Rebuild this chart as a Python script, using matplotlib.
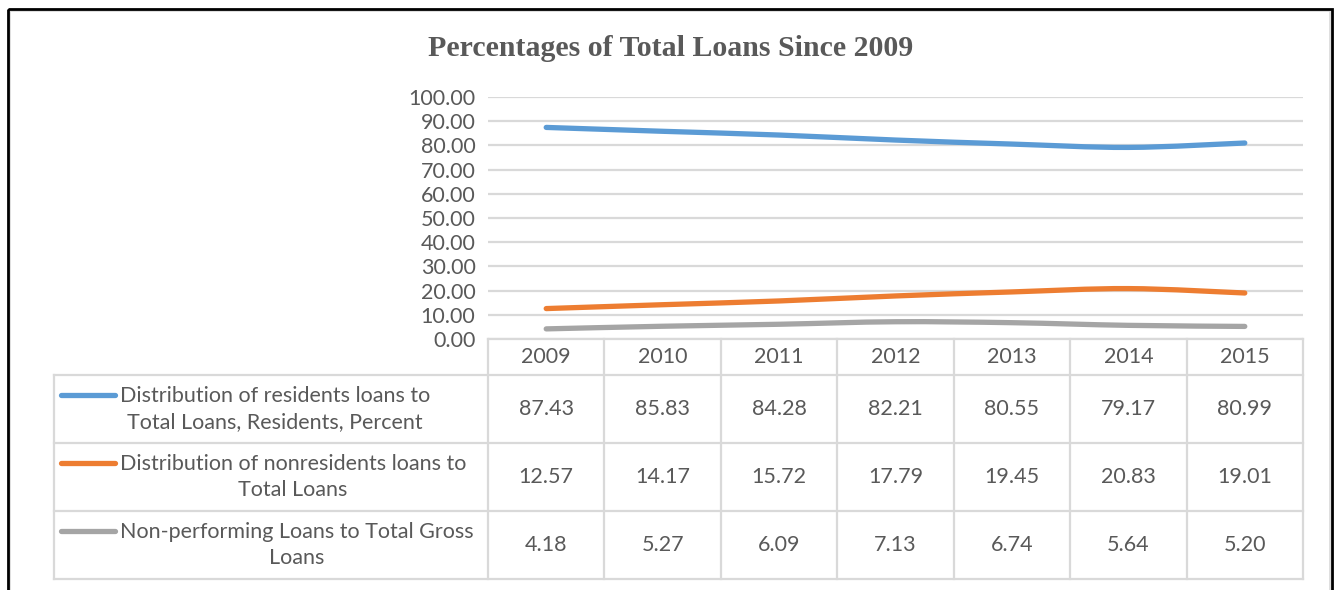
import matplotlib
matplotlib.use('Agg')
import matplotlib.pyplot as plt
from matplotlib.path import Path
from matplotlib.patches import PathPatch, Rectangle
from matplotlib.lines import Line2D
from matplotlib.ticker import FuncFormatter

# data
years = ['2009', '2010', '2011', '2012', '2013', '2014', '2015']
residents = [87.43, 85.83, 84.28, 82.21, 80.55, 79.17, 80.99]
nonresidents = [12.57, 14.17, 15.72, 17.79, 19.45, 20.83, 19.01]
nonperforming = [4.18, 5.27, 6.09, 7.13, 6.74, 5.64, 5.20]

series = [residents, nonresidents, nonperforming]
names = ['Distribution of residents loans to\nTotal Loans, Residents, Percent',
         'Distribution of nonresidents loans to\nTotal Loans',
         'Non-performing Loans to Total Gross\nLoans']
colors = ['#5b9bd5', '#ed7d31', '#a5a5a5']

TXT = '#595959'
GRID = '#d9d9d9'
FONT = 'Lato'
FS = 15.5

W, H = 1334, 590
fig = plt.figure(figsize=(W / 100, H / 100), dpi=100)

# pixel layout
plot_l, plot_r, plot_t, plot_b = 488, 1303, 97, 339
tab_l = 54
row_edges = [339, 375, 443, 511, 579]
ncol = len(years)
colw = (plot_r - plot_l) / ncol

# overlay in pixel coords for table / frame
ov = fig.add_axes([0, 0, 1, 1])
ov.set_xlim(0, W)
ov.set_ylim(H, 0)
ov.axis('off')

ax = fig.add_axes([plot_l / W, 1 - plot_b / H, (plot_r - plot_l) / W, (plot_b - plot_t) / H])
ax.set_facecolor('none')
ax.set_xlim(-0.5, ncol - 0.5)
ax.set_ylim(0, 100)
ax.set_yticks(range(0, 101, 10))
ax.yaxis.set_major_formatter(FuncFormatter(lambda v, p: f'{v:.2f}'))
ax.set_xticks([])
ax.tick_params(axis='y', length=0, pad=9, labelcolor=TXT, labelsize=FS)
for lab in ax.get_yticklabels():
    lab.set_fontfamily(FONT)
ax.grid(axis='y', color=GRID, lw=1.6)
ax.set_axisbelow(True)
for s in ax.spines.values():
    s.set_visible(False)


def smooth_path(xs, ys):
    # cubic bezier through the points (catmull-rom style tangents)
    pts = list(zip(xs, ys))
    n = len(pts)
    verts = [pts[0]]
    codes = [Path.MOVETO]
    for i in range(n - 1):
        p0 = pts[i - 1] if i > 0 else pts[i]
        p1 = pts[i]
        p2 = pts[i + 1]
        p3 = pts[i + 2] if i + 2 < n else pts[i + 1]
        c1 = (p1[0] + (p2[0] - p0[0]) / 6, p1[1] + (p2[1] - p0[1]) / 6)
        c2 = (p2[0] - (p3[0] - p1[0]) / 6, p2[1] - (p3[1] - p1[1]) / 6)
        verts += [c1, c2, p2]
        codes += [Path.CURVE4] * 3
    return Path(verts, codes)


xs = list(range(ncol))
for vals, c in zip(series, colors):
    patch = PathPatch(smooth_path(xs, vals), fill=False, edgecolor=c, lw=3.8,
                      capstyle='round', joinstyle='round', clip_on=False, zorder=3)
    ax.add_patch(patch)

# data table
col_edges = [plot_l + i * colw for i in range(ncol + 1)]
for y in row_edges[1:]:
    ov.plot([tab_l, plot_r], [y, y], color=GRID, lw=1.6)
ov.plot([plot_l, plot_r], [row_edges[0]] * 2, color=GRID, lw=1.6)
for x in col_edges:
    ov.plot([x, x], [row_edges[0], row_edges[-1]], color=GRID, lw=1.6)
ov.plot([tab_l, tab_l], [row_edges[1], row_edges[-1]], color=GRID, lw=1.6)

for j, yr in enumerate(years):
    cx = plot_l + (j + 0.5) * colw
    ov.text(cx, (row_edges[0] + row_edges[1]) / 2, yr, ha='center', va='center',
            color=TXT, fontsize=FS, fontfamily=FONT)

for i, (vals, name, c) in enumerate(zip(series, names, colors)):
    cy = (row_edges[i + 1] + row_edges[i + 2]) / 2
    for j, v in enumerate(vals):
        cx = plot_l + (j + 0.5) * colw
        ov.text(cx, cy, f'{v:.2f}', ha='center', va='center', color=TXT,
                fontsize=FS, fontfamily=FONT)
    ov.add_line(Line2D([61, 115], [cy - 14.5, cy - 14.5], color=c, lw=3.8,
                       solid_capstyle='round'))
    ov.text(120, cy, name, ha='left', va='center', multialignment='center',
            color=TXT, fontsize=FS, fontfamily=FONT, linespacing=1.4)

# title
ov.text(671, 48, 'Percentages of Total Loans Since 2009', ha='center', va='center',
        color=TXT, fontsize=21.5, fontweight='bold', fontfamily='Liberation Serif')

# chart frame
ov.add_patch(Rectangle((10, 11), 1320, 600, fill=False, edgecolor=GRID, lw=1.2, clip_on=False))
ov.add_patch(Rectangle((7.5, 8.5), 1324, 600, fill=False, edgecolor='black', lw=2, clip_on=False))

fig.savefig('out.png', dpi=100, facecolor='white')
